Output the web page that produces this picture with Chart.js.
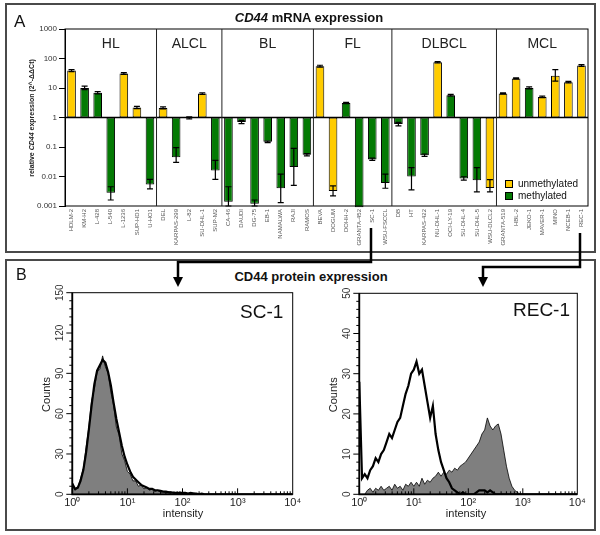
<!DOCTYPE html>
<html lang="en">
<head>
<meta charset="UTF-8">
<title>CD44 expression</title>
<script src="https://cdn.jsdelivr.net/npm/chart.js@4.4.1/dist/chart.umd.min.js"></script>
<style>
    body { margin: 0; background: #fff; font-family: "Liberation Sans", Arial, sans-serif; }
    #fig { position: relative; width: 600px; height: 535px; overflow: hidden; }
    .frame { position: absolute; border: 2px solid #4a4a4a; box-sizing: border-box; }
    .txt { position: absolute; white-space: nowrap; line-height: 1; color: #111; }
    .c { transform: translate(-50%, -50%); }
    .rot { transform: translate(-50%, -50%) rotate(-90deg); }
    .box { position: absolute; }
    .sw { display: inline-block; width: 6px; height: 6px; border: 1px solid #000; margin-right: 5px; vertical-align: -1px; }
</style>
</head>
<body>
<div id="fig">
    <div class="frame" style="left:5px;top:3px;width:591px;height:250px"></div>
    <div class="frame" style="left:5px;top:259px;width:591px;height:272px"></div>

    <div class="box" style="left:5px;top:3px;width:591px;height:250px"><canvas id="barChart"></canvas></div>
    <div class="box" style="left:15px;top:285px;width:290px;height:240px"><canvas id="sc1Chart"></canvas></div>
    <div class="box" style="left:300px;top:285px;width:295px;height:240px"><canvas id="rec1Chart"></canvas></div>

    <div class="txt" style="left:14px;top:13px;font-size:17px">A</div>
    <div class="txt c" style="left:309px;top:17px;font-size:13px;font-weight:bold"><i>CD44</i> mRNA expression</div>
    <div class="txt rot" style="left:31px;top:118px;font-size:7px;font-weight:bold;color:#222">relative <i>CD44</i> expression (2^-ΔΔCt)</div>
    <div class="txt" style="left:505px;top:178px;font-size:10px;line-height:11.5px">
        <div><span class="sw" style="background:#ffcc00"></span>unmethylated</div>
        <div><span class="sw" style="background:#047a04"></span>methylated</div>
    </div>

    <div class="txt" style="left:16px;top:267px;font-size:16px">B</div>
    <div class="txt c" style="left:311px;top:276px;font-size:13px;font-weight:bold">CD44 protein expression</div>
    <div class="txt" style="left:240px;top:302px;font-size:19px">SC-1</div>
    <div class="txt" style="left:513px;top:300px;font-size:19px">REC-1</div>
    <div class="txt c" style="left:183px;top:513px;font-size:11px;color:#222">intensity</div>
    <div class="txt c" style="left:466px;top:513px;font-size:11px;color:#222">intensity</div>

    <svg width="600" height="535" style="position:absolute;left:0;top:0">
        <polyline points="371,228 371,262 178,262 178,278" fill="none" stroke="#000" stroke-width="2.5"/>
        <polygon points="173,277 183,277 178,287" fill="#000"/>
        <polyline points="580,233 580,267 483,267 483,278" fill="none" stroke="#000" stroke-width="2.5"/>
        <polygon points="478,277 488,277 483,287" fill="#000"/>
    </svg>
</div>

<script>
    // ---- panel A: qPCR ----
    const cellLines = [
        "HDLM-2", "KM-H2", "L-428", "L-540", "L-1236", "SUP-HD1", "U-HO1",
        "DEL", "KARPAS-299", "L-82", "SU-DHL-1", "SUP-M2",
        "CA-46", "DAUDI", "DG-75", "EB-1", "NAMALWA", "RAJI", "RAMOS",
        "BEVA", "DOGUM", "DOHH-2", "GRANTA-452", "SC-1", "WSU-FSCCL",
        "DB", "HT", "KARPAS-422", "NU-DHL-1", "OCI-LY-19", "SU-DHL-4", "SU-DHL-5", "WSU-DLCL2",
        "GRANTA-519", "HBL-2", "JEKO-1", "MAVER-1", "MINO", "NCEB-1", "REC-1"
    ];
    const groupNames = ["HL", "ALCL", "BL", "FL", "DLBCL", "MCL"];
    const groupSizes = [7, 5, 7, 6, 8, 7];
    const expression = [
        39, 10, 6.9, 0.0028, 31, 2.2, 0.0054,
        2.1, 0.045, 0.97, 6.5, 0.016,
        0.0014, 0.7, 0.0012, 0.15, 0.004, 0.021, 0.055,
        55, 0.0032, 3.1, 0.0009, 0.038, 0.006,
        0.6, 0.01, 0.053, 75, 5.7, 0.0085, 0.0075, 0.0041,
        6.5, 21, 10, 5, 26, 15.8, 58
    ];
    const methylation = [
        "U", "M", "M", "M", "U", "U", "M",
        "U", "M", "M", "U", "M",
        "M", "M", "M", "M", "M", "M", "M",
        "U", "U", "M", "M", "M", "M",
        "M", "M", "M", "U", "M", "M", "M", "U",
        "U", "U", "M", "U", "U", "U", "U"
    ];
    const errLow = [
        36, 8.8, 6.3, 0.0016, 29, 2.0, 0.0038,
        1.95, 0.03, 0.9, 6.1, 0.008,
        0.001, 0.62, 0.001, 0.14, 0.0013, 0.005, 0.05,
        51, 0.0022, 2.95, null, 0.035, 0.004,
        0.52, 0.0035, 0.048, 71, 5.3, 0.0075, 0.003, 0.003,
        6.2, 20, 9.3, 4.7, 17, 15, 54
    ];
    const errHigh = [
        42, 11.5, 7.5, 0.0045, 33, 2.4, 0.008,
        2.3, 0.095, 1.05, 6.9, 0.035,
        0.0045, 0.78, 0.0016, 0.16, 0.012, 0.09, 0.06,
        59, 0.0048, 3.25, null, 0.042, 0.012,
        0.68, 0.02, 0.058, 79, 6.1, 0.0098, 0.02, 0.0078,
        6.8, 22, 11, 5.3, 42, 16.7, 62
    ];
    const yTicksA = [1000, 100, 10, 1, 0.1, 0.01, 0.001];

    // ---- panel B: flow cytometry histograms ----
    const channelLog = [0, 0.05, 0.1, 0.15, 0.2, 0.25, 0.3, 0.35, 0.4, 0.45, 0.5, 0.55, 0.6, 0.65, 0.7, 0.75,
        0.8, 0.85, 0.9, 0.95, 1, 1.05, 1.1, 1.15, 1.2, 1.25, 1.3, 1.35, 1.4, 1.45, 1.5, 1.55, 1.6, 1.65, 1.7,
        1.75, 1.8, 1.85, 1.9, 1.95, 2, 2.05, 2.1, 2.15, 2.2, 2.25, 2.3, 2.35, 2.4, 2.45, 2.5, 2.55, 2.6, 2.65,
        2.7, 2.75, 2.8, 2.85, 2.9, 2.95, 3];
    const sc1Stained = [7, 3, 5, 12, 19, 35, 50, 70, 78, 91, 93, 103, 95, 90, 76, 66, 50, 44, 30, 25,
        17, 15, 10, 10, 6, 7, 4, 5, 3, 4, 2, 3, 1.5, 2, 1, 2, 1, 1, 0.5, 1.5,
        0.5, 1, 0.5, 1, 1, 0.5, 0, 0, 0, 0, 0, 0, 0, 0, 0, 0, 0, 0, 0, 0, 0];
    const sc1Control = [8, 4, 5, 10, 18, 31, 48, 66, 82, 92, 96, 100, 98, 91, 81, 68, 56, 46, 36, 28,
        22, 17, 13, 11, 9, 7, 6, 5, 4, 4, 3, 3, 2.5, 2, 2, 1.5, 1.5, 1, 1, 1,
        1, 1, 0.5, 1, 0.5, 0.5, 0, 0.5, 0, 0, 0, 0, 0, 0, 0, 0, 0, 0, 0, 0, 0];
    const rec1Stained = [0, 0, 0, 1, 1.5, 0.5, 1.5, 1, 2, 1, 1.5, 2, 1, 2.5, 1.5, 2, 1, 2.5, 2, 3,
        2, 3, 2, 4, 2.5, 3.5, 3, 4, 4.5, 5.5, 4.5, 5.5, 5, 6, 5.5, 6.5, 6, 7, 7.5, 8,
        9, 10, 11, 12, 13, 15, 16, 19, 17, 16, 17, 17.5, 15, 11, 7, 4, 2, 1, 0.5, 0, 0];
    const rec1Control = [28, 4, 5, 4, 6, 7, 9, 8, 10, 11, 13, 15, 14, 16, 18, 19, 22, 25, 27, 30,
        31, 33, 30, 31, 27, 23, 19, 22, 15, 11, 8, 6, 4, 3, 1.5, 1, 0.5, 0, 0.5, 0,
        0, 0, 0, 0.5, 1, 1, 1, 0.5, 1, 0.5, 0, 0, 0, 0, 0, 0, 0, 0, 0, 0, 0];
    const intensityTicks = [1, 10, 100, 1000, 10000];

    Chart.defaults.font.family = '"Liberation Sans", Arial, sans-serif';
    Chart.defaults.animation = false;
    Chart.defaults.plugins.legend.display = false;
    Chart.defaults.plugins.tooltip.enabled = false;

    const YELLOW = "#ffcc00";
    const GREEN = "#047a04";

    // error bars, group dividers, group names, baseline at 1
    const panelADecor = {
        id: "panelADecor",
        afterDatasetsDraw(chart) {
            const ctx = chart.ctx, x = chart.scales.x, y = chart.scales.y;
            ctx.save();
            ctx.strokeStyle = "#000";
            ctx.lineWidth = 1.2;
            errLow.forEach((lo, i) => {
                if (lo === null) return;
                const px = x.getPixelForValue(i);
                const y1 = y.getPixelForValue(lo), y2 = y.getPixelForValue(errHigh[i]);
                ctx.beginPath();
                ctx.moveTo(px, y1); ctx.lineTo(px, y2);
                ctx.moveTo(px - 3, y1); ctx.lineTo(px + 3, y1);
                ctx.moveTo(px - 3, y2); ctx.lineTo(px + 3, y2);
                ctx.stroke();
            });
            ctx.restore();
        },
        afterDraw(chart) {
            const ctx = chart.ctx, x = chart.scales.x, y = chart.scales.y, a = chart.chartArea;
            ctx.save();
            ctx.strokeStyle = "#000";
            ctx.lineWidth = 1;
            ctx.strokeRect(a.left, a.top, a.width, a.height);
            const y1 = y.getPixelForValue(1);
            ctx.lineWidth = 1.3;
            ctx.beginPath(); ctx.moveTo(a.left, y1); ctx.lineTo(a.right, y1); ctx.stroke();

            ctx.lineWidth = 1;
            ctx.strokeStyle = "#222";
            ctx.fillStyle = "#222";
            ctx.font = '14px "Liberation Sans", Arial, sans-serif';
            ctx.textAlign = "center";
            ctx.textBaseline = "middle";
            let start = 0;
            groupSizes.forEach((n, g) => {
                const end = start + n;
                const l = start === 0 ? a.left : (x.getPixelForValue(start - 1) + x.getPixelForValue(start)) / 2;
                const r = end >= cellLines.length ? a.right : (x.getPixelForValue(end - 1) + x.getPixelForValue(end)) / 2;
                if (end < cellLines.length) {
                    ctx.beginPath(); ctx.moveTo(r, a.top); ctx.lineTo(r, a.bottom); ctx.stroke();
                }
                ctx.fillText(groupNames[g], (l + r) / 2, a.top + 15);
                start = end;
            });
            ctx.restore();
        }
    };

    new Chart(document.getElementById("barChart"), {
        type: "bar",
        data: {
            labels: cellLines,
            datasets: [
                {
                    label: "unmethylated",
                    data: expression.map((v, i) => methylation[i] === "U" ? [1, v] : null),
                    backgroundColor: YELLOW
                },
                {
                    label: "methylated",
                    data: expression.map((v, i) => methylation[i] === "M" ? [1, v] : null),
                    backgroundColor: GREEN
                }
            ]
        },
        options: {
            responsive: true,
            maintainAspectRatio: false,
            layout: { padding: { top: 26, right: 8, left: 0, bottom: 0 } },
            datasets: {
                bar: {
                    grouped: false,
                    barPercentage: 0.66,
                    categoryPercentage: 1,
                    borderColor: "#000",
                    borderWidth: 1,
                    borderSkipped: false,
                    clip: false
                }
            },
            scales: {
                x: {
                    grid: { display: false, drawTicks: false },
                    border: { display: false },
                    ticks: { autoSkip: false, minRotation: 90, maxRotation: 90, font: { size: 6 }, color: "#555", padding: 3 },
                    afterFit(s) { s.height = 47; }
                },
                y: {
                    type: "logarithmic",
                    min: 0.001,
                    max: 1000,
                    afterBuildTicks(s) { s.ticks = yTicksA.map(v => ({ value: v })); },
                    ticks: { font: { size: 8 }, color: "#333", padding: 2, callback: v => String(v) },
                    grid: { drawOnChartArea: false, tickLength: 6, color: "#000" },
                    border: { display: true, color: "#000" },
                    afterFit(s) { s.width = 60; }
                }
            }
        },
        plugins: [panelADecor]
    });

    // box, minor/major ticks, rotated y labels and "Counts" for the flow histograms
    const histAxes = {
        id: "histAxes",
        afterDraw(chart, args, o) {
            const ctx = chart.ctx, a = chart.chartArea, x = chart.scales.x, y = chart.scales.y;
            ctx.save();
            ctx.strokeStyle = "#000";
            ctx.lineWidth = 1;
            ctx.strokeRect(a.left, a.top, a.width, a.height);
            ctx.lineWidth = 1.8;
            ctx.beginPath();
            ctx.moveTo(a.left, a.top); ctx.lineTo(a.left, a.bottom); ctx.lineTo(a.right, a.bottom);
            ctx.stroke();
            ctx.lineWidth = 1;
            ctx.beginPath();
            for (let v = 0; v <= y.max; v += o.minor) {
                const py = y.getPixelForValue(v);
                const len = v % o.major === 0 ? 6 : 3;
                ctx.moveTo(a.left - len, py); ctx.lineTo(a.left, py);
            }
            for (let k = 1; k < 10000; k *= 10) {
                for (let m = 1; m <= 9; m++) {
                    const px = x.getPixelForValue(m * k);
                    const len = m === 1 ? 6 : 3;
                    ctx.moveTo(px, a.bottom); ctx.lineTo(px, a.bottom - len);
                }
            }
            ctx.stroke();
            ctx.textAlign = "center";
            ctx.textBaseline = "middle";
            ctx.fillStyle = "#333";
            ctx.font = '10px "Liberation Sans", Arial, sans-serif';
            for (let v = 0; v <= y.max; v += o.major) {
                ctx.save();
                ctx.translate(a.left - 12, y.getPixelForValue(v));
                ctx.rotate(-Math.PI / 2);
                ctx.fillText(String(v), 0, 0);
                ctx.restore();
            }
            ctx.fillStyle = "#222";
            ctx.font = '11px "Liberation Sans", Arial, sans-serif';
            ctx.translate(a.left - 25.5, (a.top + a.bottom) / 2 + 1);
            ctx.rotate(-Math.PI / 2);
            ctx.fillText("Counts", 0, 0);
            ctx.restore();
        }
    };

    const sup = ["\u2070", "\u00b9", "\u00b2", "\u00b3", "\u2074"];
    function toPoints(counts) {
        const pts = channelLog.map((l, i) => ({ x: Math.pow(10, l), y: counts[i] }));
        pts.push({ x: 10000, y: 0 });
        return pts;
    }

    function histogram(id, stained, control, yMax, major, minor, axisWidth, padRight, padTop) {
        new Chart(document.getElementById(id), {
            type: "line",
            data: {
                datasets: [
                    { data: toPoints(control), borderColor: "#000", borderWidth: 2.2, fill: false, pointRadius: 0, tension: 0 },
                    { data: toPoints(stained), borderColor: "#000", borderWidth: 0.8, backgroundColor: "#7f7f7f", fill: "origin", pointRadius: 0, tension: 0 }
                ]
            },
            options: {
                responsive: true,
                maintainAspectRatio: false,
                layout: { padding: { top: padTop, right: padRight, left: 0, bottom: 0 } },
                scales: {
                    x: {
                        type: "logarithmic",
                        min: 1,
                        max: 10000,
                        afterBuildTicks(s) { s.ticks = intensityTicks.map(v => ({ value: v })); },
                        ticks: {
                            autoSkip: false, maxRotation: 0, font: { size: 11 }, color: "#222", padding: 2,
                            callback: v => "10" + sup[Math.round(Math.log10(v))]
                        },
                        grid: { display: false, drawTicks: false },
                        border: { display: false },
                        afterFit(s) { s.height = 30.7; }
                    },
                    y: {
                        min: 0,
                        max: yMax,
                        ticks: { display: false },
                        grid: { display: false, drawTicks: false },
                        border: { display: false },
                        afterFit(s) { s.width = axisWidth; }
                    }
                },
                plugins: { histAxes: { major: major, minor: minor } }
            },
            plugins: [histAxes]
        });
    }

    histogram("sc1Chart", sc1Stained, sc1Control, 150, 30, 6, 57.3, 12.3, 7.7);
    histogram("rec1Chart", rec1Stained, rec1Control, 50, 10, 2, 59.3, 17.7, 8.3);
</script>
</body>
</html>
